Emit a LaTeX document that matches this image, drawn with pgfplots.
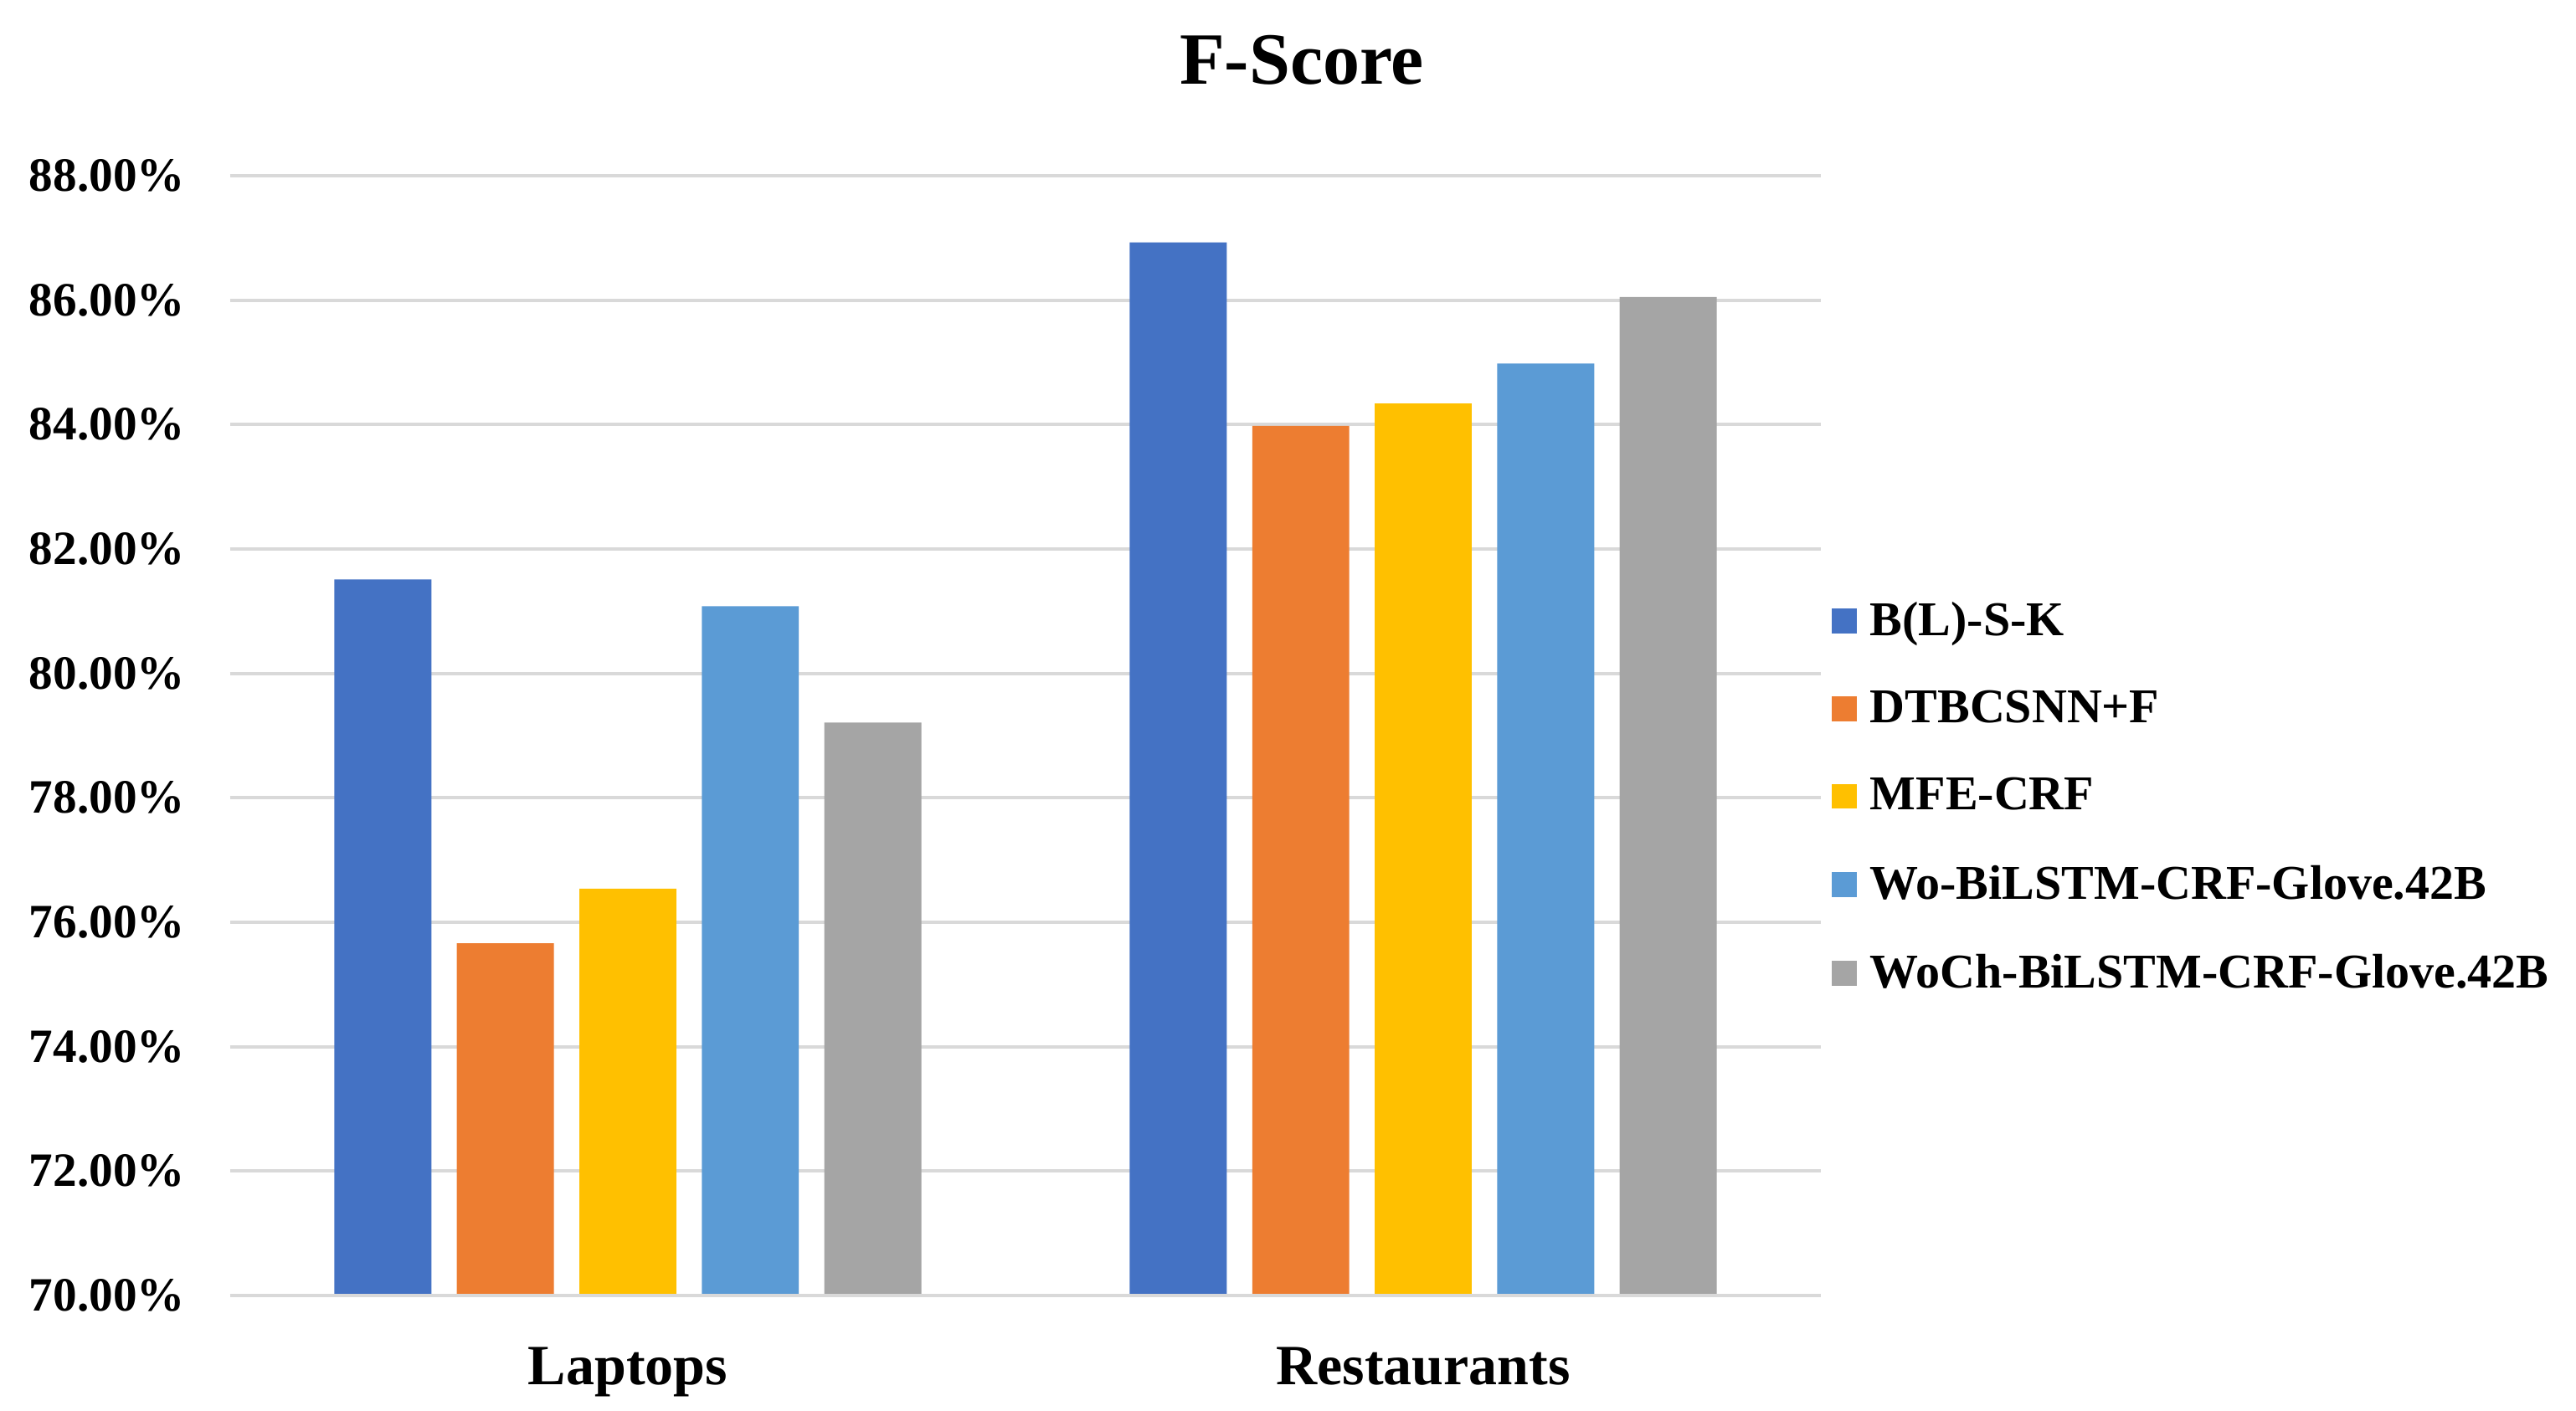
\documentclass[border=0pt]{standalone}
\usepackage{fontspec}
\setmainfont{Liberation Serif}
\usepackage{pgfplots}
\pgfplotsset{compat=1.18}
\definecolor{c1}{HTML}{4472C4}
\definecolor{c2}{HTML}{ED7D31}
\definecolor{c3}{HTML}{FFC000}
\definecolor{c4}{HTML}{5B9BD5}
\definecolor{c5}{HTML}{A5A5A5}
\definecolor{gridc}{HTML}{D9D9D9}
\begin{document}
\begin{tikzpicture}
\begin{axis}[
  name=ax,
  scale only axis,
  width=475pt, height=334.5pt,
  ybar, bar width=0.122,
  xmin=-0.5, xmax=1.5,
  ymin=70, ymax=88,
  ytick={70,72,...,88},
  xtick={0,1},
  xticklabels={Laptops,Restaurants},
  axis line style={draw=none},
  major tick length=0pt,
  ymajorgrids,
  grid style={gridc, line width=1pt},
  /pgf/number format/assume math mode=true,
  yticklabel={\pgfmathprintnumber[fixed,fixed zerofill,precision=2]{\tick}\%},
  yticklabel style={font=\fontsize{14.3}{16}\selectfont\bfseries, xshift=-10pt},
  xticklabel style={font=\fontsize{17}{19}\selectfont\bfseries, yshift=-12pt},
  legend style={at={(1.0,0.445)}, anchor=west, draw=none, fill=none,
    font=\fontsize{14.5}{16}\selectfont\bfseries, row sep=11pt,
    /tikz/every odd column/.append style={column sep=2pt}},
  legend cell align=left,
  legend image code/.code={\fill[#1,draw=none] (0pt,-3.7pt) rectangle (7.5pt,3.7pt);},
  every axis plot/.append style={draw=none},
]
\addplot[fill=c1, bar shift=-0.308] coordinates {(0,81.51) (1,86.93)};
\addplot[fill=c2, bar shift=-0.154] coordinates {(0,75.66) (1,83.98)};
\addplot[fill=c3, bar shift=0] coordinates {(0,76.54) (1,84.34)};
\addplot[fill=c4, bar shift=0.154] coordinates {(0,81.08) (1,84.98)};
\addplot[fill=c5, bar shift=0.308] coordinates {(0,79.21) (1,86.05)};
\legend{B(L)-S-K,DTBCSNN+F,MFE-CRF,Wo-BiLSTM-CRF-Glove.42B,WoCh-BiLSTM-CRF-Glove.42B}
\draw[gridc, line width=1pt] (rel axis cs:0,0) -- (rel axis cs:1,0);
\end{axis}
\node[font=\fontsize{22}{26}\selectfont\bfseries] at ([xshift=320pt,yshift=34.5pt]ax.north west) {F-Score};
\pgfresetboundingbox
\path ([xshift=-68.75pt,yshift=-34.5pt]ax.south west) rectangle ([xshift=700.5pt,yshift=52.5pt]ax.north west);
\end{tikzpicture}
\end{document}
